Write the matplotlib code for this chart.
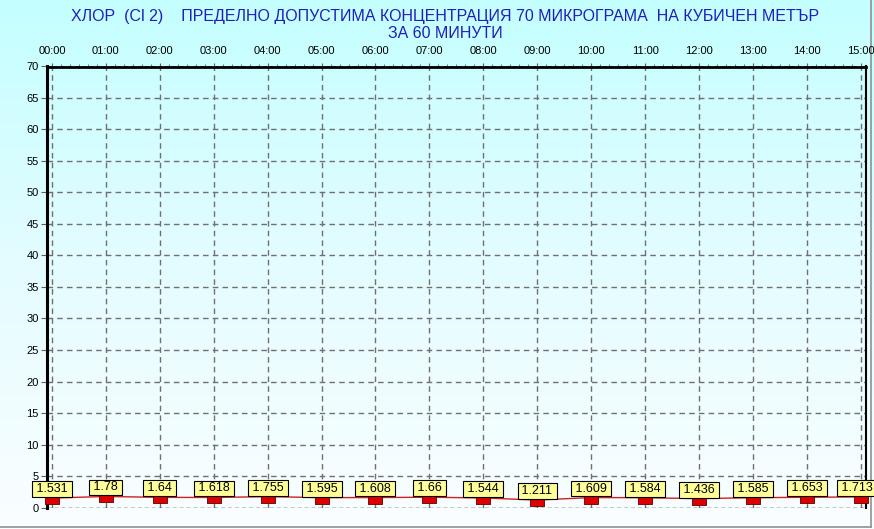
import numpy as np
import matplotlib
matplotlib.use("Agg")
import matplotlib.pyplot as plt
from matplotlib.lines import Line2D
from matplotlib.ticker import MultipleLocator
from matplotlib.colors import LinearSegmentedColormap
from matplotlib.transforms import ScaledTranslation

plt.rcParams['font.family'] = ['Liberation Sans', 'DejaVu Sans']

hours = list(range(16))
hour_labels = [f"{h:02d}:00" for h in hours]
values = [1.531, 1.78, 1.64, 1.618, 1.755, 1.595, 1.608, 1.66,
          1.544, 1.211, 1.609, 1.584, 1.436, 1.585, 1.653, 1.713]
value_labels = ["1.531", "1.78", "1.64", "1.618", "1.755", "1.595", "1.608", "1.66",
                "1.544", "1.211", "1.609", "1.584", "1.436", "1.585", "1.653", "1.713"]
y_ticks = list(range(0, 71, 5))
title1 = "ХЛОР  (Cl 2)    ПРЕДЕЛНО ДОПУСТИМА КОНЦЕНТРАЦИЯ 70 МИКРОГРАМА  НА КУБИЧЕН МЕТЪР"
title2 = "ЗА 60 МИНУТИ"

W, H = 874, 529
fig = plt.figure(figsize=(W / 100, H / 100), dpi=100)

# background gradient
bg = fig.add_axes([0, 0, 1, 1], zorder=-10)
grad = np.linspace(0, 1, 256).reshape(-1, 1)
cmap = LinearSegmentedColormap.from_list("bg", ["#C4FFFF", "#E4FCFF", "#FAFEFF"])
bg.imshow(grad, aspect='auto', cmap=cmap, extent=[0, 1, 0, 1], origin='upper')
bg.set_axis_off()

left = 47 / W
right = 865.7 / W
top = 1 - 66 / H
bottom = 1 - 507.7 / H
ax = fig.add_axes([left, bottom, right - left, top - bottom])
ax.set_facecolor('none')

px_per_hour = (860.7 - 52) / 15
ax.set_xlim(-5 / px_per_hour, 15 + 5 / px_per_hour)
ax.set_ylim(0, 70)

# grid
for y in y_ticks[1:-1]:
    ax.axhline(y, color='#707070', lw=1, ls=(0, (4, 3)), zorder=1)
for x in hours:
    ax.axvline(x, color='#707070', lw=1, ls=(0, (4, 3)), zorder=1)
ax.axhline(70, color='#555555', lw=1, ls=(0, (3, 2)), zorder=2)
ax.axhline(0, color='black', lw=1, ls=(0, (3, 2)), zorder=2)

# spines
ax.spines['left'].set_linewidth(2.2)
ax.spines['top'].set_linewidth(2.0)
ax.spines['top'].set_position(('outward', -1))
ax.spines['right'].set_linewidth(1.5)
ax.spines['bottom'].set_visible(False)

# ticks
ax.xaxis.tick_top()
ax.set_xticks(hours)
ax.set_xticklabels(hour_labels, fontsize=8)
ax.xaxis.set_minor_locator(MultipleLocator(1 / 6))
ax.tick_params(axis='x', which='major', length=3, pad=5, direction='out', color='#606060')
ax.tick_params(axis='x', which='minor', length=2, direction='out', color='#606060')
ax.set_yticks(y_ticks)
ax.set_yticklabels([str(v) for v in y_ticks], fontsize=8)
ax.yaxis.set_minor_locator(MultipleLocator(1))
ax.tick_params(axis='y', which='major', length=4, pad=2, direction='out', color='#606060')
ax.tick_params(axis='y', which='minor', length=2, direction='inout', color='#606060')

# data line and markers
ax.plot(hours, values, color='#D02020', lw=1, zorder=4, clip_on=False)
rect = [(-1, -0.6), (1, -0.6), (1, 0.6), (-1, 0.6), (-1, -0.6)]
shift = ax.transData + ScaledTranslation(0, -2 / 100, fig.dpi_scale_trans)
ax.plot(hours, values, ls='none', marker=rect, markersize=10, transform=shift,
        markerfacecolor='#DD0000', markeredgecolor='#600000', markeredgewidth=0.6,
        zorder=5, clip_on=False)

n = len(hours)
for i, (h, v, lab) in enumerate(zip(hours, values, value_labels)):
    dx = -4 if i == n - 1 else 0
    ax.annotate("\u2009" + lab + "\u2009", (h, v), xytext=(dx, 3), textcoords='offset pixels',
                ha='center', va='bottom', fontsize=9, zorder=6,
                bbox=dict(boxstyle='square,pad=0.15', fc='#FFFF99', ec='black', lw=0.8),
                annotation_clip=False)

# titles
fig.text(445 / W, 1 - 17 / H, title1, ha='center', va='center', fontsize=11.5,
         color='#2020B8')
fig.text(445 / W, 1 - 33 / H, title2, ha='center', va='center', fontsize=11.5,
         color='#2020B8')

# outer gray border
fig.add_artist(Line2D([871 / W, 871 / W], [1 - 527 / H, 1], transform=fig.transFigure,
                      color='#909090', lw=1.2, zorder=-5))
fig.add_artist(Line2D([0, 871 / W], [1 - 527 / H, 1 - 527 / H], transform=fig.transFigure,
                      color='#909090', lw=1.2, zorder=-5))

fig.savefig('out.png', dpi=100)
